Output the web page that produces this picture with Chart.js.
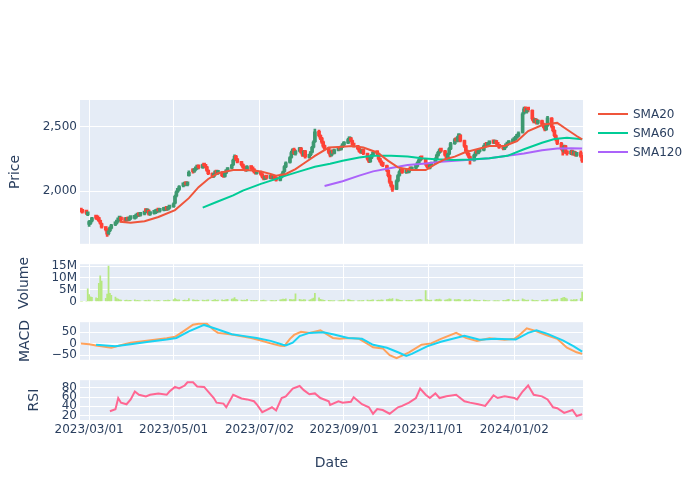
<!DOCTYPE html>
<html>
<head>
<meta charset="utf-8">
<script src="https://cdn.jsdelivr.net/npm/chart.js@4.4.0/dist/chart.umd.min.js"></script>
<style>
  body { margin: 0; background: #fff; }
  #wrap { position: relative; width: 700px; height: 500px; font-family: "DejaVu Sans", sans-serif; }
  canvas { position: absolute; left: 0; }
  .item { position: absolute; left: 598px; height: 16px; line-height: 16px; font-size: 12px; color: #2a3f5f; white-space: nowrap; }
  .sw { display: inline-block; width: 30px; height: 2px; vertical-align: middle; margin: -2px 5px 0 0; }
</style>
</head>
<body>
<div id="wrap">
  <canvas id="priceChart" width="700" height="174" style="top:80px"></canvas>
  <canvas id="volChart" width="700" height="58" style="top:254px"></canvas>
  <canvas id="macdChart" width="700" height="58" style="top:312px"></canvas>
  <canvas id="rsiChart" width="700" height="130" style="top:370px"></canvas>
  <div id="legend"></div>
</div>
<script>
// daily candles, one per weekday starting 2023-02-23
const firstDay = '2023-02-23';
const opens = [
  1855,1848,1832,1815,1740,1748,1768,1792,1788,1790,
  1768,1748,1715,1702,1668,1692,1712,1738,1752,1768,
  1782,1792,1778,1772,1783,1776,1787,1788,1797,1806,
  1817,1811,1822,1852,1838,1852,1818,1826,1832,1837,
  1848,1843,1851,1853,1864,1857,1868,1878,1905,1962,
  1998,2012,2040,2046,2058,2048,2120,2160,2152,2166,
  2178,2190,2182,2205,2198,2188,2162,2138,2112,2132,
  2155,2138,2148,2125,2113,2142,2158,2178,2205,2242,
  2272,2248,2228,2208,2188,2172,2158,2192,2178,2168,
  2152,2138,2152,2132,2112,2093,2108,2098,2118,2098,
  2112,2098,2083,2108,2124,2152,2188,2222,2262,2302,
  2325,2288,2312,2335,2302,2278,2312,2262,2282,2302,
  2342,2385,2465,2432,2412,2382,2352,2332,2302,2278,
  2312,2293,2318,2335,2323,2343,2358,2373,2398,2412,
  2392,2368,2352,2333,2312,2298,2322,2292,2252,2228,
  2258,2278,2305,2292,2252,2232,2212,2198,2162,2122,
  2072,2042,2015,2078,2122,2152,2165,2143,2163,2148,
  2172,2163,2178,2193,2218,2238,2262,2248,2212,2192,
  2178,2198,2218,2248,2278,2298,2322,2312,2282,2258,
  2288,2328,2368,2402,2388,2422,2435,2392,2352,2312,
  2292,2268,2238,2278,2302,2293,2308,2318,2348,2368,
  2353,2368,2385,2373,2388,2372,2358,2342,2328,2343,
  2358,2368,2383,2393,2403,2418,2428,2455,2605,2645,
  2618,2640,2628,2562,2538,2558,2528,2548,2522,2502,
  2478,2508,2568,2502,2472,2432,2402,2372,2332,2308,
  2352,2302,2288,2312,2288,2302,2278,2300,2272
];
const highs = [
  1862,1852,1840,1830,1770,1772,1795,1802,1796,1795,
  1775,1752,1722,1708,1698,1722,1742,1758,1772,1788,
  1798,1798,1785,1788,1790,1792,1798,1802,1812,1822,
  1824,1826,1832,1860,1856,1855,1832,1837,1842,1848,
  1855,1856,1862,1866,1870,1876,1888,1908,1968,2002,
  2018,2042,2055,2062,2065,2068,2158,2170,2172,2182,
  2195,2198,2210,2212,2204,2192,2166,2142,2136,2158,
  2160,2152,2152,2130,2146,2166,2182,2208,2248,2282,
  2278,2254,2232,2212,2194,2178,2198,2196,2184,2172,
  2158,2156,2156,2136,2116,2112,2114,2122,2122,2116,
  2116,2102,2116,2132,2156,2198,2228,2268,2310,2330,
  2334,2318,2340,2340,2308,2316,2316,2288,2308,2348,
  2390,2482,2475,2438,2418,2388,2358,2338,2308,2318,
  2318,2326,2338,2342,2352,2368,2384,2410,2420,2418,
  2396,2372,2356,2338,2318,2326,2326,2296,2258,2266,
  2286,2308,2312,2296,2256,2236,2218,2202,2166,2126,
  2078,2048,2088,2128,2158,2168,2170,2166,2168,2176,
  2178,2186,2202,2228,2248,2270,2268,2252,2218,2198,
  2206,2226,2258,2288,2308,2328,2328,2316,2288,2296,
  2338,2378,2410,2412,2428,2445,2440,2396,2356,2318,
  2298,2272,2288,2308,2310,2316,2328,2358,2372,2375,
  2378,2388,2392,2392,2394,2378,2362,2348,2352,2366,
  2378,2392,2402,2412,2428,2438,2460,2610,2652,2655,
  2640,2648,2632,2570,2565,2562,2552,2552,2528,2508,
  2518,2582,2572,2506,2476,2438,2408,2378,2338,2358,
  2356,2310,2318,2318,2308,2308,2302,2312,2278
];
const lows = [
  1838,1828,1818,1808,1725,1740,1760,1780,1776,1762,
  1742,1712,1690,1648,1660,1685,1705,1730,1745,1760,
  1775,1768,1762,1765,1768,1770,1780,1782,1790,1800,
  1803,1805,1815,1835,1832,1812,1810,1820,1825,1830,
  1838,1836,1845,1848,1850,1852,1862,1872,1900,1955,
  1990,2005,2032,2040,2042,2040,2115,2140,2145,2160,
  2170,2172,2176,2188,2178,2152,2128,2105,2106,2126,
  2132,2130,2112,2106,2108,2136,2152,2172,2198,2236,
  2238,2218,2196,2178,2162,2152,2154,2168,2158,2142,
  2132,2132,2122,2102,2086,2088,2092,2094,2092,2092,
  2086,2076,2078,2102,2118,2146,2182,2216,2255,2295,
  2282,2280,2305,2292,2270,2272,2255,2255,2276,2296,
  2335,2378,2420,2400,2370,2340,2320,2290,2265,2272,
  2286,2288,2312,2318,2318,2338,2352,2368,2392,2382,
  2358,2342,2322,2302,2292,2292,2282,2240,2220,2222,
  2252,2272,2282,2242,2222,2200,2190,2150,2110,2060,
  2030,1998,2010,2072,2116,2146,2138,2138,2142,2142,
  2158,2158,2172,2188,2212,2232,2242,2200,2182,2172,
  2172,2192,2212,2242,2272,2292,2302,2272,2252,2252,
  2282,2322,2362,2382,2382,2415,2382,2340,2300,2280,
  2260,2210,2232,2272,2288,2288,2302,2312,2342,2348,
  2348,2362,2368,2368,2362,2348,2332,2320,2322,2338,
  2352,2362,2378,2388,2398,2412,2422,2450,2598,2610,
  2605,2615,2550,2530,2530,2520,2520,2510,2490,2468,
  2472,2502,2490,2460,2420,2390,2360,2320,2280,2302,
  2290,2280,2282,2280,2280,2272,2270,2262,2222
];
const closes = [
  1845,1835,1828,1820,1750,1765,1785,1790,1785,1770,
  1750,1720,1700,1665,1690,1715,1735,1750,1765,1780,
  1790,1775,1770,1780,1775,1785,1790,1795,1805,1815,
  1810,1820,1825,1840,1850,1820,1825,1830,1835,1840,
  1845,1850,1855,1860,1858,1870,1880,1900,1960,1995,
  2010,2035,2045,2055,2050,2060,2145,2150,2165,2175,
  2185,2180,2200,2195,2185,2160,2135,2115,2130,2150,
  2140,2145,2120,2115,2140,2160,2175,2200,2240,2270,
  2245,2225,2205,2185,2170,2160,2190,2175,2165,2150,
  2140,2150,2130,2110,2095,2105,2100,2115,2100,2110,
  2095,2085,2110,2125,2150,2190,2220,2260,2300,2320,
  2290,2310,2330,2300,2280,2310,2265,2280,2300,2340,
  2380,2460,2430,2410,2380,2350,2330,2300,2280,2310,
  2295,2320,2330,2325,2345,2360,2375,2400,2410,2390,
  2365,2350,2330,2310,2300,2320,2290,2250,2230,2260,
  2280,2300,2290,2250,2230,2210,2200,2160,2120,2070,
  2040,2010,2080,2120,2150,2160,2145,2160,2150,2170,
  2165,2180,2195,2220,2240,2260,2250,2210,2190,2180,
  2200,2220,2250,2280,2300,2320,2310,2280,2260,2290,
  2330,2370,2400,2390,2420,2430,2390,2350,2310,2290,
  2270,2240,2280,2300,2295,2310,2320,2350,2365,2355,
  2370,2380,2375,2385,2370,2355,2340,2330,2345,2360,
  2370,2385,2395,2405,2420,2430,2450,2600,2640,2620,
  2625,2630,2560,2540,2555,2530,2545,2520,2500,2480,
  2510,2570,2500,2470,2430,2400,2370,2330,2310,2350,
  2300,2290,2310,2290,2300,2280,2295,2270,2235
];
// volume in millions of shares
const volume = [
  0,0,0,5.4,3.0,2.1,1.9,1.7,1.5,7.7,
  10.9,8.7,1.5,3.2,15.0,3.6,2.7,2.0,1.4,1.1,
  0.8,0.7,0.6,0.7,0.5,0.6,0.6,0.8,0.5,0.6,
  0.5,0.4,0.5,0.6,0.4,0.7,0.5,0.4,0.4,0.5,
  0.6,0.4,0.5,0.6,0.5,0.7,0.6,0.9,1.3,0.9,
  0.7,0.8,0.6,0.7,0.5,0.6,1.4,0.8,0.7,0.6,
  0.7,0.6,0.7,0.6,0.5,0.7,0.8,0.6,0.7,0.9,
  0.6,0.7,0.8,0.6,0.7,0.9,1.0,1.1,1.2,1.8,
  1.0,0.8,0.7,0.6,0.7,0.6,1.0,0.6,0.5,0.6,
  0.5,0.6,0.5,0.6,0.7,0.5,0.4,0.5,0.6,0.5,
  0.4,0.6,0.8,0.9,1.1,1.0,1.2,1.0,0.9,0.8,
  0.9,3.3,1.0,0.8,0.7,0.9,0.8,0.7,0.9,1.2,
  1.6,3.6,1.7,1.0,0.8,0.7,0.6,0.6,0.5,0.5,
  0.4,0.5,0.4,0.5,0.6,0.5,0.7,0.9,0.8,0.6,
  0.5,0.5,0.4,0.5,0.4,0.5,0.6,0.7,0.5,0.6,
  0.7,0.8,0.6,0.7,0.6,0.8,0.7,0.9,1.0,1.2,
  1.0,1.3,1.1,0.9,0.7,0.6,0.5,0.6,0.5,0.6,
  0.5,0.6,0.7,0.8,0.9,1.0,0.8,4.7,0.9,0.7,
  0.6,0.7,0.8,1.0,0.9,1.1,0.8,0.7,0.8,0.9,
  1.2,1.1,0.9,0.8,0.9,1.0,0.8,0.7,0.8,0.6,
  0.7,0.9,0.8,0.7,0.6,0.5,0.6,0.7,0.6,0.5,
  0.4,0.5,0.4,0.5,0.4,0.5,0.4,0.6,0.5,0.6,
  0.9,1.0,0.8,0.6,0.5,0.6,0.7,1.2,0.9,0.7,
  0.6,0.7,0.8,0.6,0.5,0.6,0.5,0.6,0.7,0.6,
  0.8,0.9,0.7,0.8,1.0,0.9,1.1,1.5,1.7,1.9,
  1.6,1.2,0.8,0.7,0.9,0.8,1.0,1.4,4.1
];

// indicator lines: [date, value]
const sma20 = [['2023-03-23',1762],['2023-03-31',1753],['2023-04-10',1765],['2023-04-20',1798],['2023-05-02',1852],['2023-05-12',1945],['2023-05-19',2030],['2023-05-26',2094],['2023-06-02',2138],['2023-06-13',2163],['2023-06-23',2163],['2023-07-03',2153],['2023-07-10',2133],['2023-07-14',2120],['2023-07-21',2133],['2023-07-28',2171],['2023-08-04',2222],['2023-08-11',2274],['2023-08-21',2338],['2023-08-28',2343],['2023-09-07',2351],['2023-09-15',2338],['2023-09-25',2300],['2023-10-03',2235],['2023-10-10',2184],['2023-10-20',2163],['2023-10-30',2163],['2023-11-06',2210],['2023-11-13',2248],['2023-11-20',2268],['2023-11-27',2300],['2023-12-06',2325],['2023-12-15',2351],['2023-12-26',2351],['2024-01-04',2389],['2024-01-12',2466],['2024-01-23',2517],['2024-02-02',2530],['2024-02-09',2479],['2024-02-16',2428],['2024-02-20',2402]];
const sma60 = [['2023-05-22',1871],['2023-06-01',1915],['2023-06-13',1966],['2023-06-20',2004],['2023-07-03',2056],['2023-07-12',2087],['2023-07-21',2120],['2023-07-31',2153],['2023-08-11',2189],['2023-08-22',2212],['2023-08-31',2235],['2023-09-12',2261],['2023-09-22',2274],['2023-10-05',2274],['2023-10-17',2268],['2023-10-27',2256],['2023-11-06',2248],['2023-11-20',2242],['2023-12-01',2246],['2023-12-15',2256],['2023-12-28',2274],['2024-01-09',2325],['2024-01-22',2376],['2024-01-31',2405],['2024-02-09',2415],['2024-02-20',2402]];
const sma120 = [['2023-08-18',2040],['2023-08-31',2076],['2023-09-12',2120],['2023-09-22',2153],['2023-10-05',2179],['2023-10-17',2202],['2023-10-30',2215],['2023-11-10',2228],['2023-11-20',2235],['2023-12-01',2243],['2023-12-15',2256],['2023-12-28',2274],['2024-01-09',2292],['2024-01-22',2317],['2024-02-02',2330],['2024-02-12',2333],['2024-02-20',2330]];
const macd = [['2023-02-23',0],['2023-03-01',-3],['2023-03-06',-8],['2023-03-17',-18],['2023-03-23',-8],['2023-03-31',4],['2023-04-13',14],['2023-04-26',24],['2023-05-02',30],['2023-05-08',54],['2023-05-15',83],['2023-05-19',87],['2023-05-25',87],['2023-05-30',60],['2023-06-02',47],['2023-06-12',40],['2023-06-19',32],['2023-06-26',25],['2023-07-03',14],['2023-07-10',1],['2023-07-17',-9],['2023-07-20',-10],['2023-07-24',21],['2023-07-27',38],['2023-08-01',52],['2023-08-07',47],['2023-08-15',58],['2023-08-18',47],['2023-08-24',25],['2023-08-29',21],['2023-09-04',25],['2023-09-12',21],['2023-09-19',-5],['2023-09-22',-16],['2023-09-29',-21],['2023-10-04',-51],['2023-10-09',-64],['2023-10-11',-58],['2023-10-18',-38],['2023-10-27',-5],['2023-11-03',1],['2023-11-10',21],['2023-11-21',47],['2023-11-28',25],['2023-12-06',12],['2023-12-15',24],['2023-12-26',17],['2024-01-02',21],['2024-01-05',34],['2024-01-11',67],['2024-01-18',54],['2024-01-25',38],['2024-02-02',21],['2024-02-09',-18],['2024-02-16',-38],['2024-02-20',-45]];
const signal = [['2023-03-06',-5],['2023-03-20',-12],['2023-03-31',-3],['2023-04-13',8],['2023-04-26',18],['2023-05-03',25],['2023-05-12',54],['2023-05-23',82],['2023-06-01',64],['2023-06-12',41],['2023-06-20',34],['2023-06-30',25],['2023-07-10',12],['2023-07-19',-5],['2023-07-21',-8],['2023-07-26',4],['2023-07-31',33],['2023-08-07',47],['2023-08-17',50],['2023-08-24',41],['2023-09-04',25],['2023-09-14',21],['2023-09-22',-5],['2023-10-02',-18],['2023-10-10',-38],['2023-10-16',-54],['2023-10-20',-45],['2023-10-31',-12],['2023-11-10',8],['2023-11-27',34],['2023-12-01',28],['2023-12-08',17],['2023-12-19',21],['2024-01-03',18],['2024-01-12',47],['2024-01-18',58],['2024-01-26',43],['2024-02-06',14],['2024-02-14',-12],['2024-02-20',-35]];
const rsi = [['2023-03-16',29.5],['2023-03-20',34],['2023-03-22',58],['2023-03-24',48],['2023-03-28',44.5],['2023-03-31',55],['2023-04-03',72],['2023-04-06',65],['2023-04-11',61.6],['2023-04-14',65],['2023-04-20',68],['2023-04-26',65],['2023-04-28',72],['2023-05-02',82],['2023-05-05',78.6],['2023-05-09',85],['2023-05-11',92],['2023-05-15',92],['2023-05-18',83],['2023-05-23',82],['2023-05-30',58],['2023-06-01',48],['2023-06-06',46],['2023-06-08',38],['2023-06-13',65],['2023-06-19',57],['2023-06-23',55],['2023-06-28',51],['2023-06-30',44.5],['2023-07-04',27.5],['2023-07-07',32],['2023-07-11',38],['2023-07-14',31],['2023-07-18',58],['2023-07-21',61.6],['2023-07-26',78.6],['2023-07-31',84],['2023-08-03',75],['2023-08-07',66],['2023-08-11',68],['2023-08-15',58],['2023-08-21',51],['2023-08-22',43],['2023-08-28',51],['2023-08-31',48],['2023-09-06',50],['2023-09-08',59.5],['2023-09-14',44.5],['2023-09-19',38],['2023-09-22',24],['2023-09-25',34],['2023-09-29',32],['2023-10-04',24],['2023-10-10',38],['2023-10-13',41],['2023-10-18',48],['2023-10-23',58],['2023-10-26',78.6],['2023-10-30',65],['2023-11-02',58],['2023-11-06',68],['2023-11-09',58],['2023-11-14',61.6],['2023-11-21',65],['2023-11-27',51],['2023-12-01',48],['2023-12-07',44.5],['2023-12-12',41],['2023-12-18',63.6],['2023-12-21',58],['2023-12-26',61.6],['2024-01-02',58],['2024-01-04',55],['2024-01-08',72],['2024-01-12',85],['2024-01-16',65],['2024-01-22',61.6],['2024-01-26',55],['2024-01-30',38],['2024-02-02',36],['2024-02-07',26],['2024-02-13',32],['2024-02-16',19],['2024-02-20',23]];

const xTickLabels = ['2023/03/01', '2023/05/01', '2023/07/02', '2023/09/01', '2023/11/01', '2024/01/02'];
const priceTicks = [2000, 2500];
const volumeTicks = [0, 5, 10, 15];
const macdTicks = [-50, 0, 50];
const rsiTicks = [20, 40, 60, 80];

const TEXT = '#2a3f5f';
const UP = '#3D9970', DOWN = '#FF4136';
Chart.defaults.font.family = '"DejaVu Sans", sans-serif';
Chart.defaults.color = TEXT;

// x values are days counted from 2023-03-01
const DAY = 86400000;
const origin = Date.UTC(2023, 2, 1);
function dayNum(s) {
    const [y, m, d] = s.split(/[-\/]/).map(Number);
    return (Date.UTC(y, m - 1, d) - origin) / DAY;
}
const dates = [];
for (let t = origin + dayNum(firstDay) * DAY; dates.length < closes.length; t += DAY) {
    const wd = new Date(t).getUTCDay();
    if (wd !== 0 && wd !== 6) dates.push((t - origin) / DAY);
}
const xTicks = xTickLabels.map(dayNum);
const xMin = dates[0] - 0.6, xMax = dates[dates.length - 1] + 0.6;
const pts = arr => arr.map(([d, v]) => ({ x: dayNum(d), y: v }));
const candleColors = closes.map((c, i) => c >= opens[i] ? UP : DOWN);

const bg = {
    id: 'bg',
    beforeDraw(chart) {
        const { ctx, chartArea: a } = chart;
        ctx.save();
        ctx.fillStyle = '#E5ECF6';
        ctx.fillRect(a.left, a.top, a.width, a.height);
        ctx.restore();
    }
};

function xScale(showLabels) {
    return {
        type: 'linear', min: xMin, max: xMax, offset: false,
        grid: { color: '#fff', lineWidth: 1, drawTicks: false, offset: false },
        border: { display: false },
        afterBuildTicks: s => { s.ticks = xTicks.map(v => ({ value: v })); },
        ticks: {
            display: showLabels, autoSkip: false, maxRotation: 0, padding: 3,
            font: { size: 12 },
            callback: v => xTickLabels[xTicks.indexOf(v)]
        },
        title: { display: showLabels, text: 'Date', font: { size: 14 }, padding: { top: 0, bottom: 28.6 } },
        afterFit: s => { s.height = showLabels ? 80 : 0; }
    };
}

function yScale(min, max, ticks, fmt, title, titlePad) {
    return {
        min, max,
        grid: { color: '#fff', drawTicks: false, lineWidth: c => (c.tick && c.tick.value === 0 ? 2 : 1) },
        border: { display: false },
        afterBuildTicks: s => { s.ticks = ticks.map(v => ({ value: v })); },
        ticks: { padding: 3, autoSkip: false, font: { size: 12 }, callback: fmt },
        title: { display: true, text: title, font: { size: 14 }, padding: { top: titlePad, bottom: 0 } },
        afterFit: s => { s.width = 80; }
    };
}

function makeChart(id, datasets, y, showLabels, padTop, padBottom) {
    return new Chart(document.getElementById(id), {
        type: 'bar',
        data: { datasets },
        options: {
            responsive: false, animation: false, devicePixelRatio: 1,
            layout: { padding: { left: 0, right: 117, top: padTop, bottom: padBottom } },
            plugins: { legend: { display: false }, tooltip: { enabled: false } },
            scales: { x: xScale(showLabels), y }
        },
        plugins: [bg]
    });
}

function lineSet(label, arr, color, order) {
    return { type: 'line', label, data: pts(arr), borderColor: color, backgroundColor: color,
             borderWidth: 2, pointRadius: 0, fill: false, tension: 0, order };
}

// price pane: wicks, bodies, moving averages
const smaSets = [
    lineSet('SMA20', sma20, '#EF553B', 0),
    lineSet('SMA60', sma60, '#00CC96', 0),
    lineSet('SMA120', sma120, '#AB63FA', 0)
];
makeChart('priceChart', [
    ...smaSets,
    { label: 'body', data: dates.map((x, i) => ({ x, y: [opens[i], closes[i]] })),
      backgroundColor: candleColors, barThickness: 3, minBarLength: 3, grouped: false, order: 1 },
    { label: 'wick', data: dates.map((x, i) => ({ x, y: [lows[i], highs[i]] })),
      backgroundColor: candleColors, barThickness: 2, grouped: false, order: 2 }
], yScale(1590, 2708, priceTicks, v => v.toLocaleString('en-US'), 'Price', 7), false, 20, 8);

makeChart('volChart', [
    { label: 'Volume', data: dates.map((x, i) => ({ x, y: volume[i] })),
      backgroundColor: '#B6E880', barThickness: 1.1, grouped: false }
], yScale(0, 15.77, volumeTicks, v => v === 0 ? '0' : v + 'M', 'Volume', 16), false, 8, 8);

makeChart('macdChart', [
    lineSet('Signal', signal, '#19D3F3', 0),
    lineSet('MACD', macd, '#FFA15A', 1)
], yScale(-71, 94, macdTicks, v => v < 0 ? '\u2212' + Math.abs(v) : String(v), 'MACD', 16.5), false, 8, 8);

makeChart('rsiChart', [
    lineSet('RSI', rsi, '#FF6692', 0)
], yScale(10.5, 96.5, rsiTicks, v => String(v), 'RSI', 25.5), true, 8, 0);

// legend for the moving averages
const legend = document.getElementById('legend');
smaSets.forEach((s, i) => {
    const item = document.createElement('div');
    item.className = 'item';
    item.style.top = (106 + i * 19) + 'px';
    item.innerHTML = `<span class="sw" style="background:${s.borderColor}"></span>${s.label}`;
    legend.appendChild(item);
});
</script>
</body>
</html>
